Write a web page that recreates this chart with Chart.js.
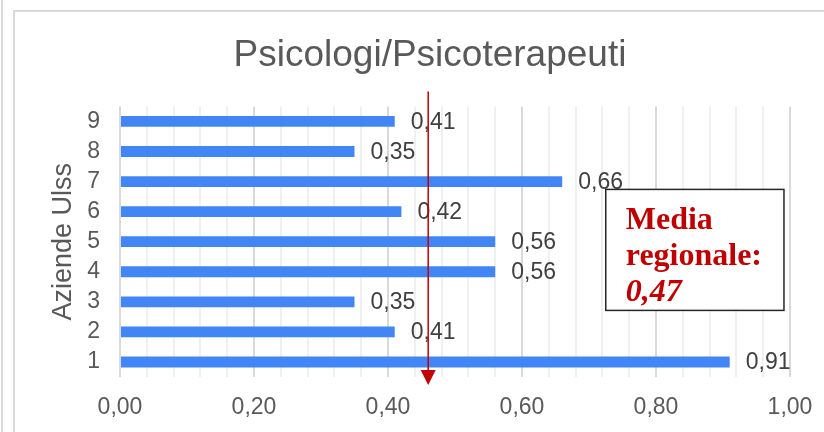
<!DOCTYPE html>
<html>
<head>
<meta charset="utf-8">
<script src="https://cdn.jsdelivr.net/npm/chart.js@4"></script>
<style>
    html, body { margin: 0; padding: 0; background: #fff; overflow: hidden; width: 824px; height: 432px; }
    #left-line { position: absolute; left: 1px; top: 0; width: 2px; height: 432px; background: #d9d9d9; }
    #frame { position: absolute; left: 13px; top: 10px; width: 840px; height: 440px; border: 2px solid #d9d9d9; box-sizing: border-box; }
    #chart { position: absolute; left: 13px; top: 10px; }
</style>
</head>
<body>
<div id="left-line"></div>
<div id="frame"></div>
<canvas id="chart" width="834" height="422"></canvas>
<script>
// Dati
const categories = ['1', '2', '3', '4', '5', '6', '7', '8', '9'];
const valori = [0.91, 0.41, 0.35, 0.56, 0.56, 0.42, 0.66, 0.35, 0.41];
const xTicks = [0, 0.2, 0.4, 0.6, 0.8, 1.0];
const xTickLabels = ['0,00', '0,20', '0,40', '0,60', '0,80', '1,00'];
const mediaRegionale = 0.47;   // testo nel riquadro
const mediaFreccia = 0.46;     // dove e' disegnata la freccia

const FONT = "'Liberation Sans', Arial, sans-serif";
const GREY = '#595959';
const RED = '#c00000';

const fmt = v => v.toFixed(2).replace('.', ',');
const isMajor = v => xTicks.some(t => Math.abs(t - v) < 1e-6);

// etichette, riquadro e freccia
const annotazioni = {
    id: 'annotazioni',
    afterDatasetsDraw(chart) {
        const { ctx, chartArea, scales: { x } } = chart;
        const meta = chart.getDatasetMeta(0);

        // etichette dati
        ctx.save();
        ctx.font = '23px ' + FONT;
        ctx.fillStyle = '#404040';
        ctx.textAlign = 'left';
        ctx.textBaseline = 'middle';
        meta.data.forEach((bar, i) => {
            ctx.fillText(fmt(valori[i]), bar.x + 16, bar.y + 1);
        });
        ctx.restore();

        // riquadro "Media regionale"
        const bx = x.getPixelForValue(0.725);
        const bw = x.getPixelForValue(0.991) - bx;
        const by = chartArea.top + 83;
        const bh = 121;
        ctx.save();
        ctx.fillStyle = '#fff';
        ctx.fillRect(bx, by, bw, bh);
        ctx.strokeStyle = '#262626';
        ctx.lineWidth = 1.5;
        ctx.strokeRect(bx, by, bw, bh);
        ctx.fillStyle = RED;
        ctx.textAlign = 'left';
        ctx.textBaseline = 'alphabetic';
        ctx.font = "bold 32px 'Liberation Serif', 'Times New Roman', serif";
        ctx.fillText('Media', bx + 20, by + 40);
        ctx.fillText('regionale:', bx + 20, by + 76);
        ctx.font = "italic bold 32px 'Liberation Serif', 'Times New Roman', serif";
        ctx.fillText(fmt(mediaRegionale), bx + 20, by + 112);
        ctx.restore();

        // freccia
        const lx = x.getPixelForValue(mediaFreccia);
        const top = chartArea.top - 15;
        const tip = chartArea.bottom + 8;
        ctx.save();
        ctx.strokeStyle = RED;
        ctx.fillStyle = RED;
        ctx.lineWidth = 1.5;
        ctx.beginPath();
        ctx.moveTo(lx, top);
        ctx.lineTo(lx, tip - 12);
        ctx.stroke();
        ctx.beginPath();
        ctx.moveTo(lx - 7.5, tip - 15);
        ctx.lineTo(lx + 7.5, tip - 15);
        ctx.lineTo(lx, tip);
        ctx.closePath();
        ctx.fill();
        ctx.restore();
    }
};

new Chart(document.getElementById('chart'), {
    type: 'bar',
    data: {
        labels: categories,
        datasets: [{
            data: valori,
            backgroundColor: '#4285f4',
            borderWidth: 0,
            barPercentage: 0.36,
            categoryPercentage: 1
        }]
    },
    options: {
        indexAxis: 'y',
        responsive: false,
        animation: false,
        devicePixelRatio: 1,
        layout: { padding: { left: 10, right: 10, top: 0, bottom: 0 } },
        plugins: {
            legend: { display: false },
            tooltip: { enabled: false },
            title: {
                display: true,
                text: 'Psicologi/Psicoterapeuti',
                color: GREY,
                font: { family: FONT, size: 37, weight: 'normal' },
                padding: { top: 24, bottom: 28 }
            }
        },
        scales: {
            x: {
                min: 0,
                max: 1,
                ticks: {
                    stepSize: 0.04,
                    autoSkip: false,
                    maxRotation: 0,
                    color: GREY,
                    font: { family: FONT, size: 23 },
                    padding: 17,
                    callback: v => {
                        const i = xTicks.findIndex(t => Math.abs(t - v) < 1e-6);
                        return i >= 0 ? xTickLabels[i] : '';
                    }
                },
                grid: {
                    drawTicks: false,
                    lineWidth: 2,
                    color: c => isMajor(c.tick.value) ? '#d9d9d9' : '#f0f0f0'
                },
                border: { display: false },
                afterFit: s => { s.height = 55; }
            },
            y: {
                reverse: true,
                ticks: { autoSkip: false, color: GREY, font: { family: FONT, size: 23 }, padding: 20 },
                grid: { display: false, drawTicks: false },
                border: { display: false },
                title: {
                    display: true,
                    text: 'Aziende Ulss',
                    color: GREY,
                    font: { family: FONT, size: 27, weight: 'normal' },
                    padding: { top: 24, bottom: 0 }
                },
                afterFit: s => { s.width = 97; }
            },
            // spazio a destra dell'area del grafico
            margine: {
                type: 'linear',
                position: 'right',
                ticks: { display: false },
                grid: { display: false },
                border: { display: false },
                afterFit: s => { s.width = 47; }
            }
        }
    },
    plugins: [annotazioni]
});
</script>
</body>
</html>
